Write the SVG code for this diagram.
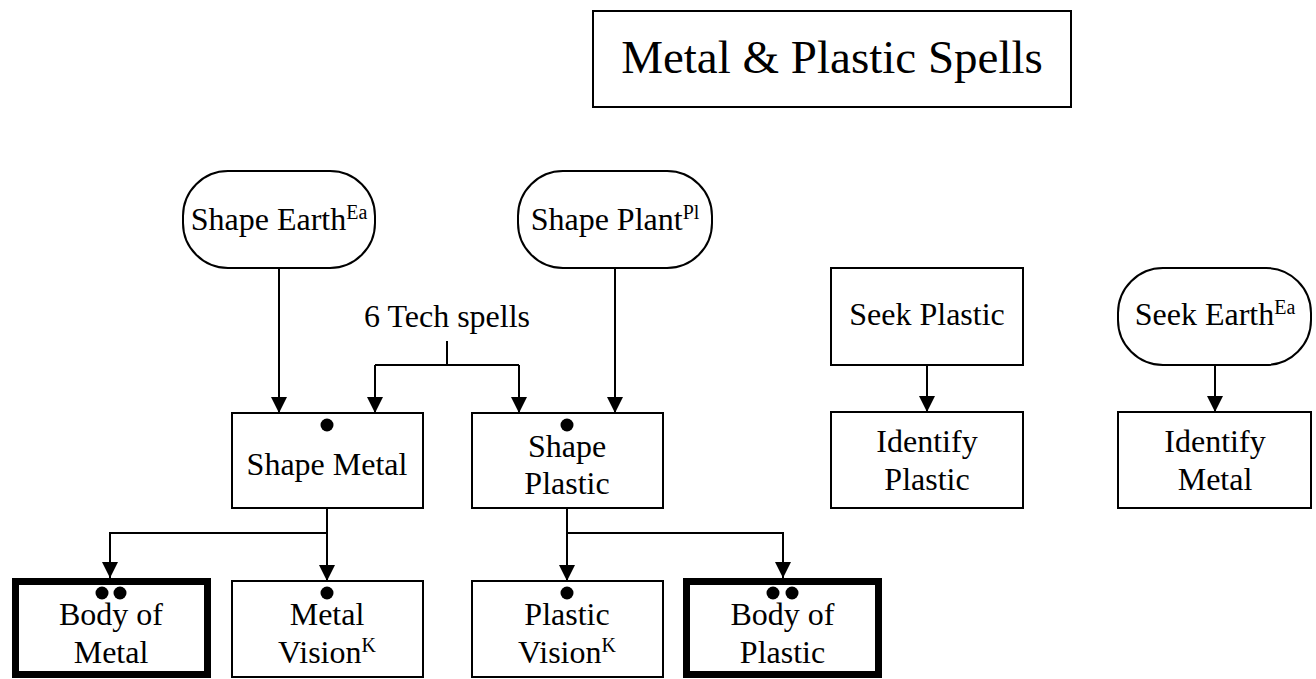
<svg xmlns="http://www.w3.org/2000/svg" width="1316" height="679" viewBox="0 0 1316 679">
<style>
  text { font-family: "Liberation Serif", "Times New Roman", serif; font-size: 32px; fill: #000; text-anchor: middle; }
  .title { font-size: 47px; }
  .sup { font-size: 20px; }
  .box { fill: #fff; stroke: #000; stroke-width: 2; }
  .thick { fill: #fff; stroke: #000; stroke-width: 7; }
  .line { fill: none; stroke: #000; stroke-width: 2; }
  .dot { fill: #000; }
</style>
<defs>
  <marker id="arr" markerWidth="16" markerHeight="16" refX="16" refY="8" orient="auto" markerUnits="userSpaceOnUse">
    <path d="M0,0 L16,8 L0,16 Z" fill="#000"/>
  </marker>
</defs>
<rect width="1316" height="679" fill="#fff"/>

<g id="connectors">
  <path class="line" d="M279,268 V413" marker-end="url(#arr)"/>
  <path class="line" d="M615,268 V413" marker-end="url(#arr)"/>
  <path class="line" d="M447,341 V365"/>
  <path class="line" d="M375,365 H519"/>
  <path class="line" d="M375,365 V413" marker-end="url(#arr)"/>
  <path class="line" d="M519,365 V413" marker-end="url(#arr)"/>
  <path class="line" d="M327,508 V581" marker-end="url(#arr)"/>
  <path class="line" d="M327,533 H110 V578" marker-end="url(#arr)"/>
  <path class="line" d="M567,508 V581" marker-end="url(#arr)"/>
  <path class="line" d="M567,533 H783 V578" marker-end="url(#arr)"/>
  <path class="line" d="M927,365 V412" marker-end="url(#arr)"/>
  <path class="line" d="M1215,365 V412" marker-end="url(#arr)"/>
</g>

<g id="title">
  <rect class="box" x="593" y="11" width="478" height="96"/>
  <text class="title" x="832" y="73">Metal &amp; Plastic Spells</text>
</g>

<g id="shape-earth">
  <rect class="box" x="183" y="171" width="192" height="97" rx="45" ry="45"/>
  <text x="279" y="230">Shape Earth<tspan class="sup" dy="-11">Ea</tspan></text>
</g>

<g id="shape-plant">
  <rect class="box" x="518" y="171" width="194" height="97" rx="45" ry="45"/>
  <text x="615" y="230">Shape Plant<tspan class="sup" dy="-11">Pl</tspan></text>
</g>

<g id="tech-spells">
  <text x="447" y="327">6 Tech spells</text>
</g>

<g id="shape-metal">
  <rect class="box" x="232" y="413" width="191" height="95"/>
  <circle class="dot" cx="327" cy="425" r="6.5"/>
  <text x="327" y="475">Shape Metal</text>
</g>

<g id="shape-plastic">
  <rect class="box" x="472" y="413" width="191" height="95"/>
  <circle class="dot" cx="567" cy="425" r="6.5"/>
  <text x="567" y="457">Shape</text>
  <text x="567" y="494">Plastic</text>
</g>

<g id="seek-plastic">
  <rect class="box" x="831" y="268" width="192" height="97"/>
  <text x="927" y="325">Seek Plastic</text>
</g>

<g id="identify-plastic">
  <rect class="box" x="831" y="412" width="192" height="96"/>
  <text x="927" y="452">Identify</text>
  <text x="927" y="490">Plastic</text>
</g>

<g id="seek-earth">
  <rect class="box" x="1118" y="268" width="193" height="97" rx="45" ry="45"/>
  <text x="1215" y="325">Seek Earth<tspan class="sup" dy="-11">Ea</tspan></text>
</g>

<g id="identify-metal">
  <rect class="box" x="1118" y="412" width="193" height="96"/>
  <text x="1215" y="452">Identify</text>
  <text x="1215" y="490">Metal</text>
</g>

<g id="body-of-metal">
  <rect class="thick" x="15.5" y="581.5" width="192" height="93"/>
  <circle class="dot" cx="102" cy="593" r="6.5"/>
  <circle class="dot" cx="120" cy="593" r="6.5"/>
  <text x="111" y="625">Body of</text>
  <text x="111" y="663">Metal</text>
</g>

<g id="metal-vision">
  <rect class="box" x="232" y="581" width="191" height="96"/>
  <circle class="dot" cx="327" cy="593" r="6.5"/>
  <text x="327" y="625">Metal</text>
  <text x="327" y="663">Vision<tspan class="sup" dy="-11">K</tspan></text>
</g>

<g id="plastic-vision">
  <rect class="box" x="472" y="581" width="191" height="96"/>
  <circle class="dot" cx="567" cy="593" r="6.5"/>
  <text x="567" y="625">Plastic</text>
  <text x="567" y="663">Vision<tspan class="sup" dy="-11">K</tspan></text>
</g>

<g id="body-of-plastic">
  <rect class="thick" x="686.5" y="581.5" width="192" height="93"/>
  <circle class="dot" cx="773" cy="593" r="6.5"/>
  <circle class="dot" cx="792" cy="593" r="6.5"/>
  <text x="782.5" y="625">Body of</text>
  <text x="782.5" y="663">Plastic</text>
</g>
</svg>
